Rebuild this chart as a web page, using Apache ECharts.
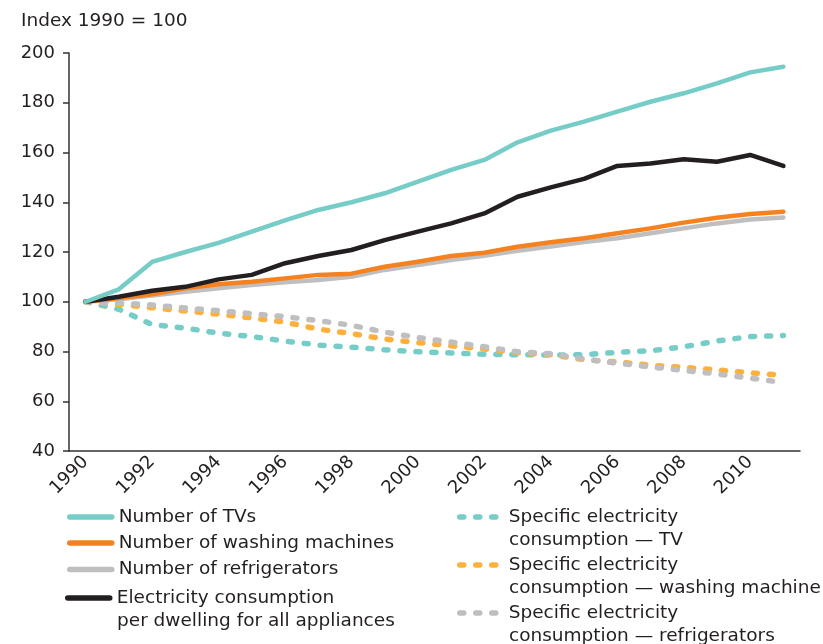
<!DOCTYPE html>
<html>
<head>
<meta charset="utf-8">
<script src="https://cdn.jsdelivr.net/npm/echarts@6/dist/echarts.min.js"></script>
<style>
  html, body { margin: 0; padding: 0; background: #fff; }
  #main { width: 823px; height: 644px; }
</style>
</head>
<body>
<div id="main"></div>
<script>
// years on the x axis
var years = ['1990', '1991', '1992', '1993', '1994', '1995', '1996', '1997', '1998', '1999', '2000',
             '2001', '2002', '2003', '2004', '2005', '2006', '2007', '2008', '2009', '2010', '2011'];

// index values, 1990 = 100
var tvs        = [100, 105, 116, 120, 123.7, 128.2, 132.7, 136.9, 140, 143.6, 148.3, 153, 157, 164.1, 168.8, 172.4, 176.4, 180.4, 183.8, 187.8, 192.2, 194.5];
var washing    = [100, 101.5, 103, 105.4, 107, 108, 109.4, 110.8, 111.3, 114.1, 116.1, 118.4, 119.7, 122.1, 123.9, 125.5, 127.5, 129.5, 131.8, 133.8, 135.3, 136.2];
var fridges    = [100, 101, 102.5, 104, 105.4, 106.7, 107.8, 108.7, 110, 112.8, 114.8, 116.8, 118.5, 120.5, 122.2, 124, 125.5, 127.5, 129.5, 131.5, 133.1, 133.9];
var elec       = [100, 102, 104.4, 106, 109, 110.8, 115.5, 118.4, 120.8, 124.8, 128.2, 131.5, 135.5, 142.2, 146, 149.4, 154.6, 155.6, 157.3, 156.3, 159, 154.6];
var specTv     = [100, 97, 90.8, 89.4, 87.4, 86, 84.2, 82.6, 81.7, 80.7, 79.9, 79.4, 78.9, 78.7, 78.6, 78.7, 79.7, 80.3, 81.9, 84.2, 86, 86.4];
var specWash   = [100, 99, 97.6, 96.3, 95, 93.5, 91.8, 89, 87.2, 85, 83.6, 82.3, 81, 79.5, 78.7, 76.7, 75.8, 74.5, 73.6, 72.6, 71.4, 70.5];
var specFridge = [100, 99.5, 98.7, 97.5, 96.4, 95.2, 94, 92.4, 90.5, 87.8, 85.6, 83.8, 81.9, 79.9, 79.1, 77, 75.3, 73.8, 72.4, 71, 69.3, 67.5];

// legend labels (first line, second line)
var names = [
  'Number of TVs',
  'Number of washing machines',
  'Number of refrigerators',
  'Electricity consumption\nper dwelling for all appliances',
  'Specific electricity\nconsumption \u2014 TV',
  'Specific electricity\nconsumption \u2014 washing machine',
  'Specific electricity\nconsumption \u2014 refrigerators'
];

var teal = '#76cdc8', orange = '#f58220', grey = '#bfbfc2', black = '#231f20', yellow = '#fdb03b';
var font = 'DejaVu Sans';
var legendFont = 18.5;

var chart = echarts.init(document.getElementById('main'));

function solid(name, data, color, z) {
  return {
    name: name, type: 'line', data: data, symbol: 'none', z: z,
    lineStyle: { color: color, width: 4.5, cap: 'round', join: 'round' },
    itemStyle: { color: color }
  };
}
function dotted(name, data, color, z) {
  return {
    name: name, type: 'line', data: data, symbol: 'none', z: z,
    lineStyle: { color: color, width: 5.5, type: [4, 12], cap: 'round' },
    itemStyle: { color: color }
  };
}

// one legend per entry so every row sits where it should;
// the second line of a two-line label is drawn as a separate text
var legendPos = [
  { left: 67, row: 517 }, { left: 67, row: 543 }, { left: 67, row: 569.5 }, { left: 65, row: 598 },
  { left: 457, row: 517 }, { left: 457, row: 565 }, { left: 457, row: 613 }
];
var legends = [];
var extraLines = [];
names.forEach(function (n, i) {
  var parts = n.split('\n');
  legends.push({
    data: [n],
    left: legendPos[i].left,
    top: legendPos[i].row - 11.5,
    padding: 0,
    itemWidth: 42,
    itemHeight: 10,
    selectedMode: false,
    lineStyle: { width: 5.5 },
    itemStyle: { opacity: 0 },
    formatter: function (name) { return name.split('\n')[0]; },
    textStyle: {
      fontFamily: font, fontSize: legendFont, color: black, lineHeight: 23,
      padding: [0, 0, 0, 2]
    }
  });
  if (parts.length > 1) {
    extraLines.push({
      type: 'text',
      x: legendPos[i].left + 52,
      y: legendPos[i].row + 23,
      style: {
        text: parts[1], fill: black, fontFamily: font, fontSize: legendFont,
        verticalAlign: 'middle'
      }
    });
  }
});

var option = {
  animation: false,
  title: {
    text: 'Index 1990 = 100',
    left: 21, top: 12, padding: 0,
    textStyle: { fontFamily: font, fontSize: 18.5, fontWeight: 'normal', color: black }
  },
  legend: legends,
  graphic: extraLines,
  grid: { left: 69, right: 23, top: 53, bottom: 193 },
  xAxis: {
    type: 'category',
    data: years,
    boundaryGap: true,
    axisLine: { lineStyle: { color: '#333', width: 1.5 } },
    axisTick: { interval: 0, length: 6, lineStyle: { color: '#333', width: 1.5 } },
    axisLabel: {
      interval: 1, rotate: 45, margin: 8,
      fontFamily: font, fontSize: 18, color: black
    }
  },
  yAxis: {
    type: 'value',
    min: 40, max: 200, interval: 20,
    splitLine: { show: false },
    axisLine: { show: true, lineStyle: { color: '#333', width: 1.5 } },
    axisTick: { show: true, length: 6, lineStyle: { color: '#333', width: 1.5 } },
    axisLabel: { margin: 14, fontFamily: font, fontSize: 18, color: black }
  },
  series: [
    dotted(names[4], specTv, teal, 1),
    dotted(names[5], specWash, yellow, 2),
    dotted(names[6], specFridge, grey, 3),
    solid(names[2], fridges, grey, 4),
    solid(names[1], washing, orange, 5),
    solid(names[3], elec, black, 6),
    solid(names[0], tvs, teal, 7)
  ]
};

chart.setOption(option);
</script>
</body>
</html>
